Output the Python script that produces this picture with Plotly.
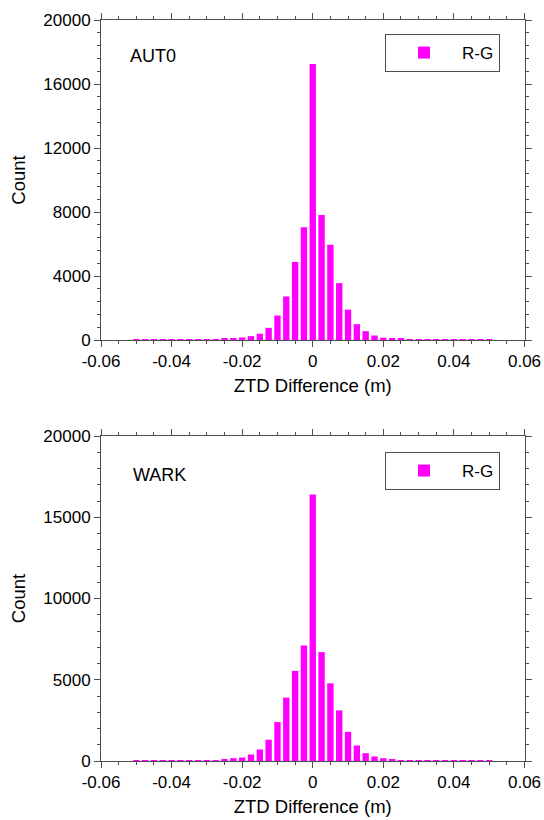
import plotly.graph_objects as go

# ---- data ----
bin_centers = [-0.05, -0.0475, -0.045, -0.0425, -0.04, -0.0375, -0.035, -0.0325,
               -0.03, -0.0275, -0.025, -0.0225, -0.02, -0.0175, -0.015, -0.0125,
               -0.01, -0.0075, -0.005, -0.0025, 0.0, 0.0025, 0.005, 0.0075,
               0.01, 0.0125, 0.015, 0.0175, 0.02, 0.0225, 0.025, 0.0275,
               0.03, 0.0325, 0.035, 0.0375, 0.04, 0.0425, 0.045, 0.0475, 0.05]

aut0_counts = [15, 18, 20, 22, 25, 28, 30, 35,
               40, 55, 75, 110, 160, 240, 390, 760,
               1530, 2720, 4880, 7050, 17250, 7820, 5950, 3550,
               1900, 990, 550, 280, 145, 100, 65, 45,
               35, 30, 25, 22, 20, 18, 15, 12, 10]

wark_counts = [15, 18, 20, 22, 25, 28, 32, 38,
               45, 60, 110, 175, 215, 400, 710, 1310,
               2395, 3900, 5545, 7110, 16400, 6700, 4780, 3115,
               1800, 955, 480, 280, 170, 100, 60, 45,
               35, 30, 25, 22, 20, 18, 15, 12, 10]

series_name = "R-G"
station_top = "AUT0"
station_bottom = "WARK"

x_tickvals = [-0.06, -0.04, -0.02, 0.0, 0.02, 0.04, 0.06]
x_ticktext = ["-0.06", "-0.04", "-0.02", "0", "0.02", "0.04", "0.06"]
y_top_tickvals = [0, 4000, 8000, 12000, 16000, 20000]
y_top_ticktext = ["0", "4000", "8000", "12000", "16000", "20000"]
y_bot_tickvals = [0, 5000, 10000, 15000, 20000]
y_bot_ticktext = ["0", "5000", "10000", "15000", "20000"]

# ---- style ----
MAGENTA = "#FF00FF"
AXC = "#4d4d4d"
FONT = "Liberation Sans, Arial, sans-serif"
W, H = 544, 820

fig = go.Figure()
fig.add_trace(go.Bar(x=bin_centers, y=aut0_counts, name=series_name,
                     marker=dict(color=MAGENTA, line=dict(width=0)),
                     width=0.0018, xaxis="x", yaxis="y", legend="legend"))
fig.add_trace(go.Bar(x=bin_centers, y=wark_counts, name=series_name,
                     marker=dict(color=MAGENTA, line=dict(width=0)),
                     width=0.0018, xaxis="x2", yaxis="y2", legend="legend2"))

xdom = [101 / W, 524.5 / W]
ytop = [1 - 340 / H, 1 - 20 / H]
ybot = [1 - 761 / H, 1 - 436 / H]

def xaxis(anchor):
    return dict(domain=xdom, anchor=anchor, range=[-0.06, 0.06],
                tickmode="array", tickvals=x_tickvals, ticktext=x_ticktext,
                ticks="outside", ticklen=6, tickwidth=1, tickcolor=AXC,
                showline=True, linecolor=AXC, linewidth=1, mirror="ticks",
                showgrid=False, zeroline=False,
                minor=dict(tickmode="linear", tick0=0, dtick=0.005, ticks="outside",
                           ticklen=3, tickcolor=AXC, showgrid=False),
                tickfont=dict(size=17, color="black", family=FONT),
                title=dict(text="ZTD Difference (m)", standoff=8,
                           font=dict(size=18.5, color="black", family=FONT)),
                automargin=False)

def yaxis(anchor, dom, tv, tt, mdt):
    return dict(domain=dom, anchor=anchor, range=[0, 20000],
                tickmode="array", tickvals=tv, ticktext=tt,
                ticks="outside", ticklen=6, tickwidth=1, tickcolor=AXC,
                showline=True, linecolor=AXC, linewidth=1, mirror="ticks",
                showgrid=False, zeroline=False,
                minor=dict(tickmode="linear", tick0=0, dtick=mdt, ticks="outside",
                           ticklen=3, tickcolor=AXC, showgrid=False),
                tickfont=dict(size=17, color="black", family=FONT),
                title=dict(text="Count", standoff=12,
                           font=dict(size=18.5, color="black", family=FONT)),
                automargin=False)

legend_style = dict(xanchor="left", yanchor="top", bgcolor="white",
                    bordercolor=AXC, borderwidth=1, itemwidth=66,
                    font=dict(size=17, color="black", family=FONT))

fig.update_layout(
    width=W, height=H,
    margin=dict(l=0, r=0, t=0, b=0),
    paper_bgcolor="white", plot_bgcolor="white",
    font=dict(family=FONT, color="black"),
    showlegend=True,
    xaxis=xaxis("y"),
    yaxis=yaxis("x", ytop, y_top_tickvals, y_top_ticktext, 800),
    xaxis2=xaxis("y2"),
    yaxis2=yaxis("x2", ybot, y_bot_tickvals, y_bot_ticktext, 1000),
    legend=dict(x=385 / W, y=1 - 34 / H, **legend_style),
    legend2=dict(x=385 / W, y=1 - 452 / H, **legend_style),
    annotations=[
        dict(text=station_top, xref="paper", yref="paper", x=128 / W, y=1 - 56 / H,
             xanchor="left", yanchor="middle", showarrow=False,
             font=dict(size=18, color="black", family=FONT)),
        dict(text=station_bottom, xref="paper", yref="paper", x=131 / W, y=1 - 475 / H,
             xanchor="left", yanchor="middle", showarrow=False,
             font=dict(size=18, color="black", family=FONT)),
    ],
)

fig.write_html("out.html",
               config={"displayModeBar": False},
               post_script="document.body.style.margin='0';document.body.style.padding='0';")
